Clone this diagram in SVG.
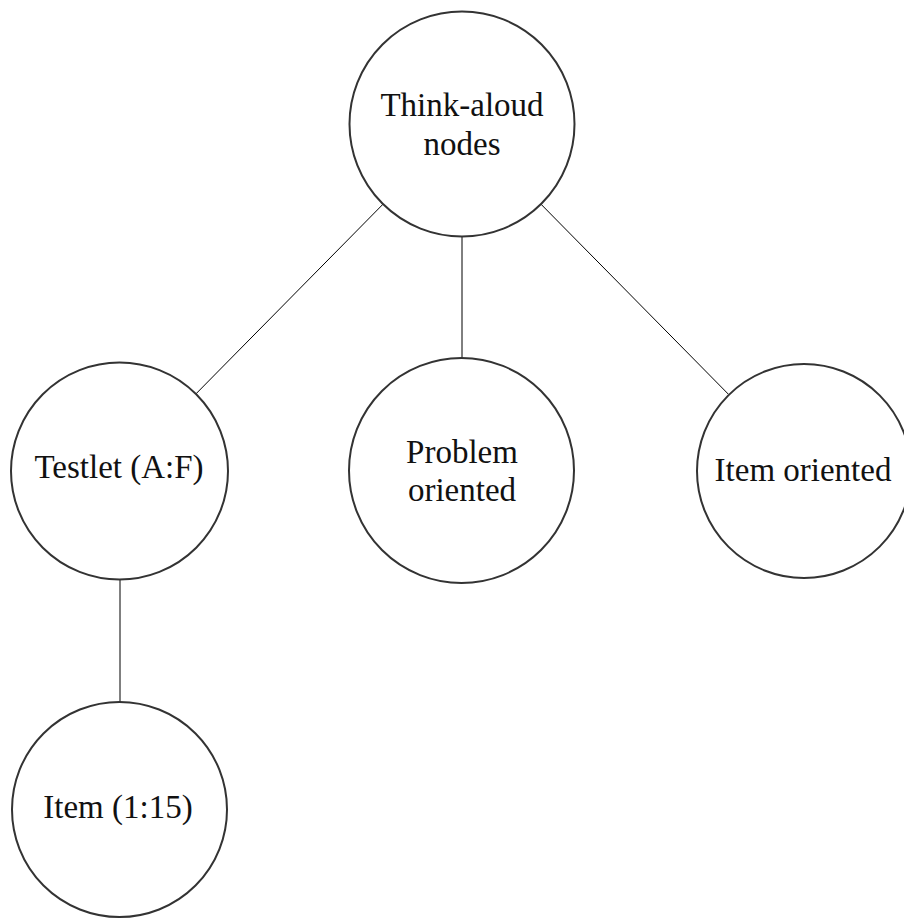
<svg xmlns="http://www.w3.org/2000/svg" width="904" height="918" viewBox="0 0 904 918">
<style>
.node{fill:#fff;stroke:#333;stroke-width:2}
.edge{stroke:#000;stroke-width:1;fill:none}
text{font-family:"Liberation Serif","Times New Roman",serif;font-size:33px;fill:#111;text-anchor:middle}
</style>
<rect width="904" height="918" fill="#fff"/>
<g id="connectors">
<line class="edge" x1="383.4" y1="203.8" x2="195.8" y2="394"/>
<line class="edge" x1="462" y1="236" x2="462" y2="358"/>
<line class="edge" x1="540.6" y1="203.8" x2="728.2" y2="394"/>
<line class="edge" x1="120" y1="579" x2="120" y2="702"/>
</g>
<g id="think-aloud">
<circle class="node" cx="462" cy="124" r="112.5"/>
<text x="462" y="116">Think-aloud</text>
<text x="462" y="155">nodes</text>
</g>
<g id="testlet">
<circle class="node" cx="119.5" cy="471" r="108.5"/>
<text x="119" y="478">Testlet (A:F)</text>
</g>
<g id="problem">
<circle class="node" cx="461.5" cy="470.5" r="112.5"/>
<text x="462" y="463">Problem</text>
<text x="462" y="501">oriented</text>
</g>
<g id="item-oriented">
<circle class="node" cx="804" cy="471" r="107"/>
<text x="803" y="481">Item oriented</text>
</g>
<g id="item">
<circle class="node" cx="119.5" cy="809.5" r="107.5"/>
<text x="118" y="818">Item (1:15)</text>
</g>
</svg>
